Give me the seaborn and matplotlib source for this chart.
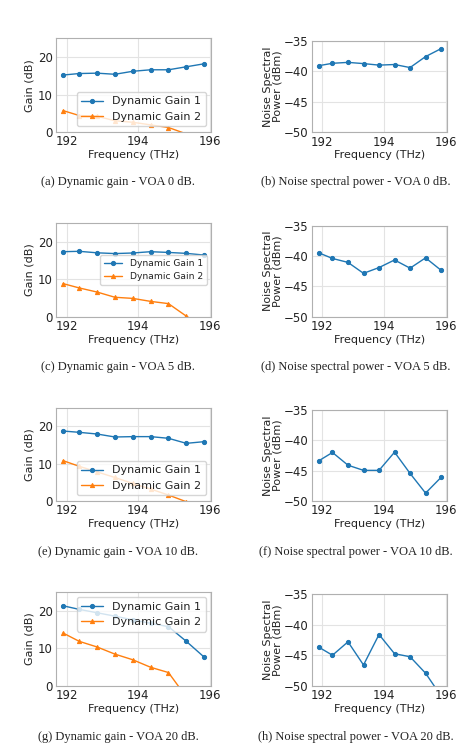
import matplotlib
matplotlib.use("Agg")
import matplotlib.pyplot as plt
import seaborn as sns
import pandas as pd

# ---- data ----
freq = [191.9, 192.35, 192.85, 193.35, 193.85, 194.35, 194.85, 195.35, 195.85]

gain1_voa0 = [15.2, 15.6, 15.7, 15.4, 16.2, 16.6, 16.6, 17.4, 18.2]
gain2_voa0 = [5.7, 4.4, 4.2, 3.0, 2.6, 1.9, 1.2, -0.5, -2.0]
noise_voa0 = [-39.1, -38.7, -38.55, -38.75, -39.0, -38.9, -39.4, -37.6, -36.3]

gain1_voa5 = [17.4, 17.5, 17.1, 16.9, 17.05, 17.4, 17.2, 16.95, 16.5]
gain2_voa5 = [8.85, 7.7, 6.6, 5.2, 4.9, 4.1, 3.5, 0.15, -3.0]
noise_voa5 = [-39.45, -40.4, -41.05, -42.85, -41.9, -40.65, -42.0, -40.3, -42.35]

gain1_voa10 = [18.75, 18.4, 17.95, 17.15, 17.25, 17.25, 16.8, 15.45, 15.9]
gain2_voa10 = [10.8, 9.3, 7.8, 6.3, 4.7, 3.2, 1.6, -0.2, -2.0]
noise_voa10 = [-43.4, -42.0, -44.1, -44.95, -44.95, -41.95, -45.45, -48.7, -46.1]

gain1_voa20 = [21.25, 20.3, 19.4, 18.5, 17.5, 16.6, 15.7, 11.8, 7.6]
gain2_voa20 = [14.0, 11.8, 10.3, 8.4, 6.9, 4.9, 3.5, -3.0, -6.0]
noise_voa20 = [-43.65, -45.0, -42.8, -46.6, -41.6, -44.75, -45.25, -47.95, -51.7]

captions_left = ["(a) Dynamic gain - VOA 0 dB.", "(c) Dynamic gain - VOA 5 dB.",
                 "(e) Dynamic gain - VOA 10 dB.", "(g) Dynamic gain - VOA 20 dB."]
captions_right = ["(b) Noise spectral power - VOA 0 dB.", "(d) Noise spectral power - VOA 5 dB.",
                  "(f) Noise spectral power - VOA 10 dB.", "(h) Noise spectral power - VOA 20 dB."]

xticks = [192, 194, 196]
gain_yticks = [0, 10, 20]
noise_yticks = [-50, -45, -40, -35]

# ---- style ----
sns.set_style("whitegrid", {"axes.edgecolor": "#b0b0b0", "grid.color": "#e3e3e3"})
plt.rcParams["font.family"] = ["DejaVu Sans"]

W, H = 471, 743
fig = plt.figure(figsize=(W / 100, H / 100), dpi=100)

def rect(left, right, top, bottom):
    return [left / W, 1 - bottom / H, (right - left) / W, (bottom - top) / H]

left_rects = [rect(56, 211.3, 38.3, 132), rect(56, 211.3, 223.3, 316.7),
              rect(56, 211.3, 407.7, 501), rect(56, 211.3, 591.7, 685.7)]
right_rects = [rect(312.3, 447.3, 40.7, 132.3), rect(312.3, 447.3, 225.7, 316.7),
               rect(312.3, 447.3, 410, 501), rect(312.3, 447.3, 594.3, 685.7)]
cap_y = [182, 367, 552, 737]

gains = [(gain1_voa0, gain2_voa0), (gain1_voa5, gain2_voa5),
         (gain1_voa10, gain2_voa10), (gain1_voa20, gain2_voa20)]
noises = [noise_voa0, noise_voa5, noise_voa10, noise_voa20]
legend_locs = ["lower right", "center right", "lower right", "upper right"]
legend_sizes = [8, 6.6, 8, 8]

BLUE = "#1f77b4"
ORANGE = "#ff7f0e"
TFS = 8.5
LFS = 8

def style_ax(ax):
    ax.tick_params(axis="both", labelsize=TFS, length=0, pad=2.5, colors="#222222")
    for s in ax.spines.values():
        s.set_linewidth(0.8)
    ax.grid(True, linewidth=0.8)

for i in range(4):
    g1, g2 = gains[i]
    ax = fig.add_axes(left_rects[i])
    sns.lineplot(x=freq, y=g1, ax=ax, color=BLUE, marker="o", markersize=3,
                 markeredgecolor=BLUE, linewidth=1, label="Dynamic Gain 1")
    sns.lineplot(x=freq, y=g2, ax=ax, color=ORANGE, marker="^", markersize=3,
                 markeredgecolor=ORANGE, linewidth=1, label="Dynamic Gain 2")
    ax.set_xlim(191.7, 196.05)
    ax.set_ylim(0, 25)
    ax.set_xticks(xticks)
    ax.set_yticks(gain_yticks)
    ax.set_xlabel("Frequency (THz)", fontsize=LFS, labelpad=1, color="#222222")
    ax.set_ylabel("Gain (dB)", fontsize=LFS, labelpad=2, color="#222222")
    style_ax(ax)
    leg = ax.legend(loc=legend_locs[i], fontsize=legend_sizes[i], framealpha=0.8)
    for t in leg.get_texts():
        t.set_color("#222222")

    ax2 = fig.add_axes(right_rects[i])
    sns.lineplot(x=freq, y=noises[i], ax=ax2, color=BLUE, marker="o", markersize=3,
                 markeredgecolor=BLUE, linewidth=1)
    ax2.set_xlim(191.7, 196.05)
    ax2.set_ylim(-50, -35)
    ax2.set_xticks(xticks)
    ax2.set_yticks(noise_yticks)
    ax2.set_xlabel("Frequency (THz)", fontsize=LFS, labelpad=1, color="#222222")
    ax2.set_ylabel("Noise Spectral\nPower (dBm)", fontsize=LFS, labelpad=1,
                   linespacing=0.95, color="#222222")
    style_ax(ax2)

    fig.text(118 / W, 1 - cap_y[i] / H, captions_left[i], ha="center", va="center",
             fontsize=9, family=["Liberation Serif"], color="#222222")
    fig.text(356 / W, 1 - cap_y[i] / H, captions_right[i], ha="center", va="center",
             fontsize=9, family=["Liberation Serif"], color="#222222")

fig.savefig("out.png", dpi=100)
